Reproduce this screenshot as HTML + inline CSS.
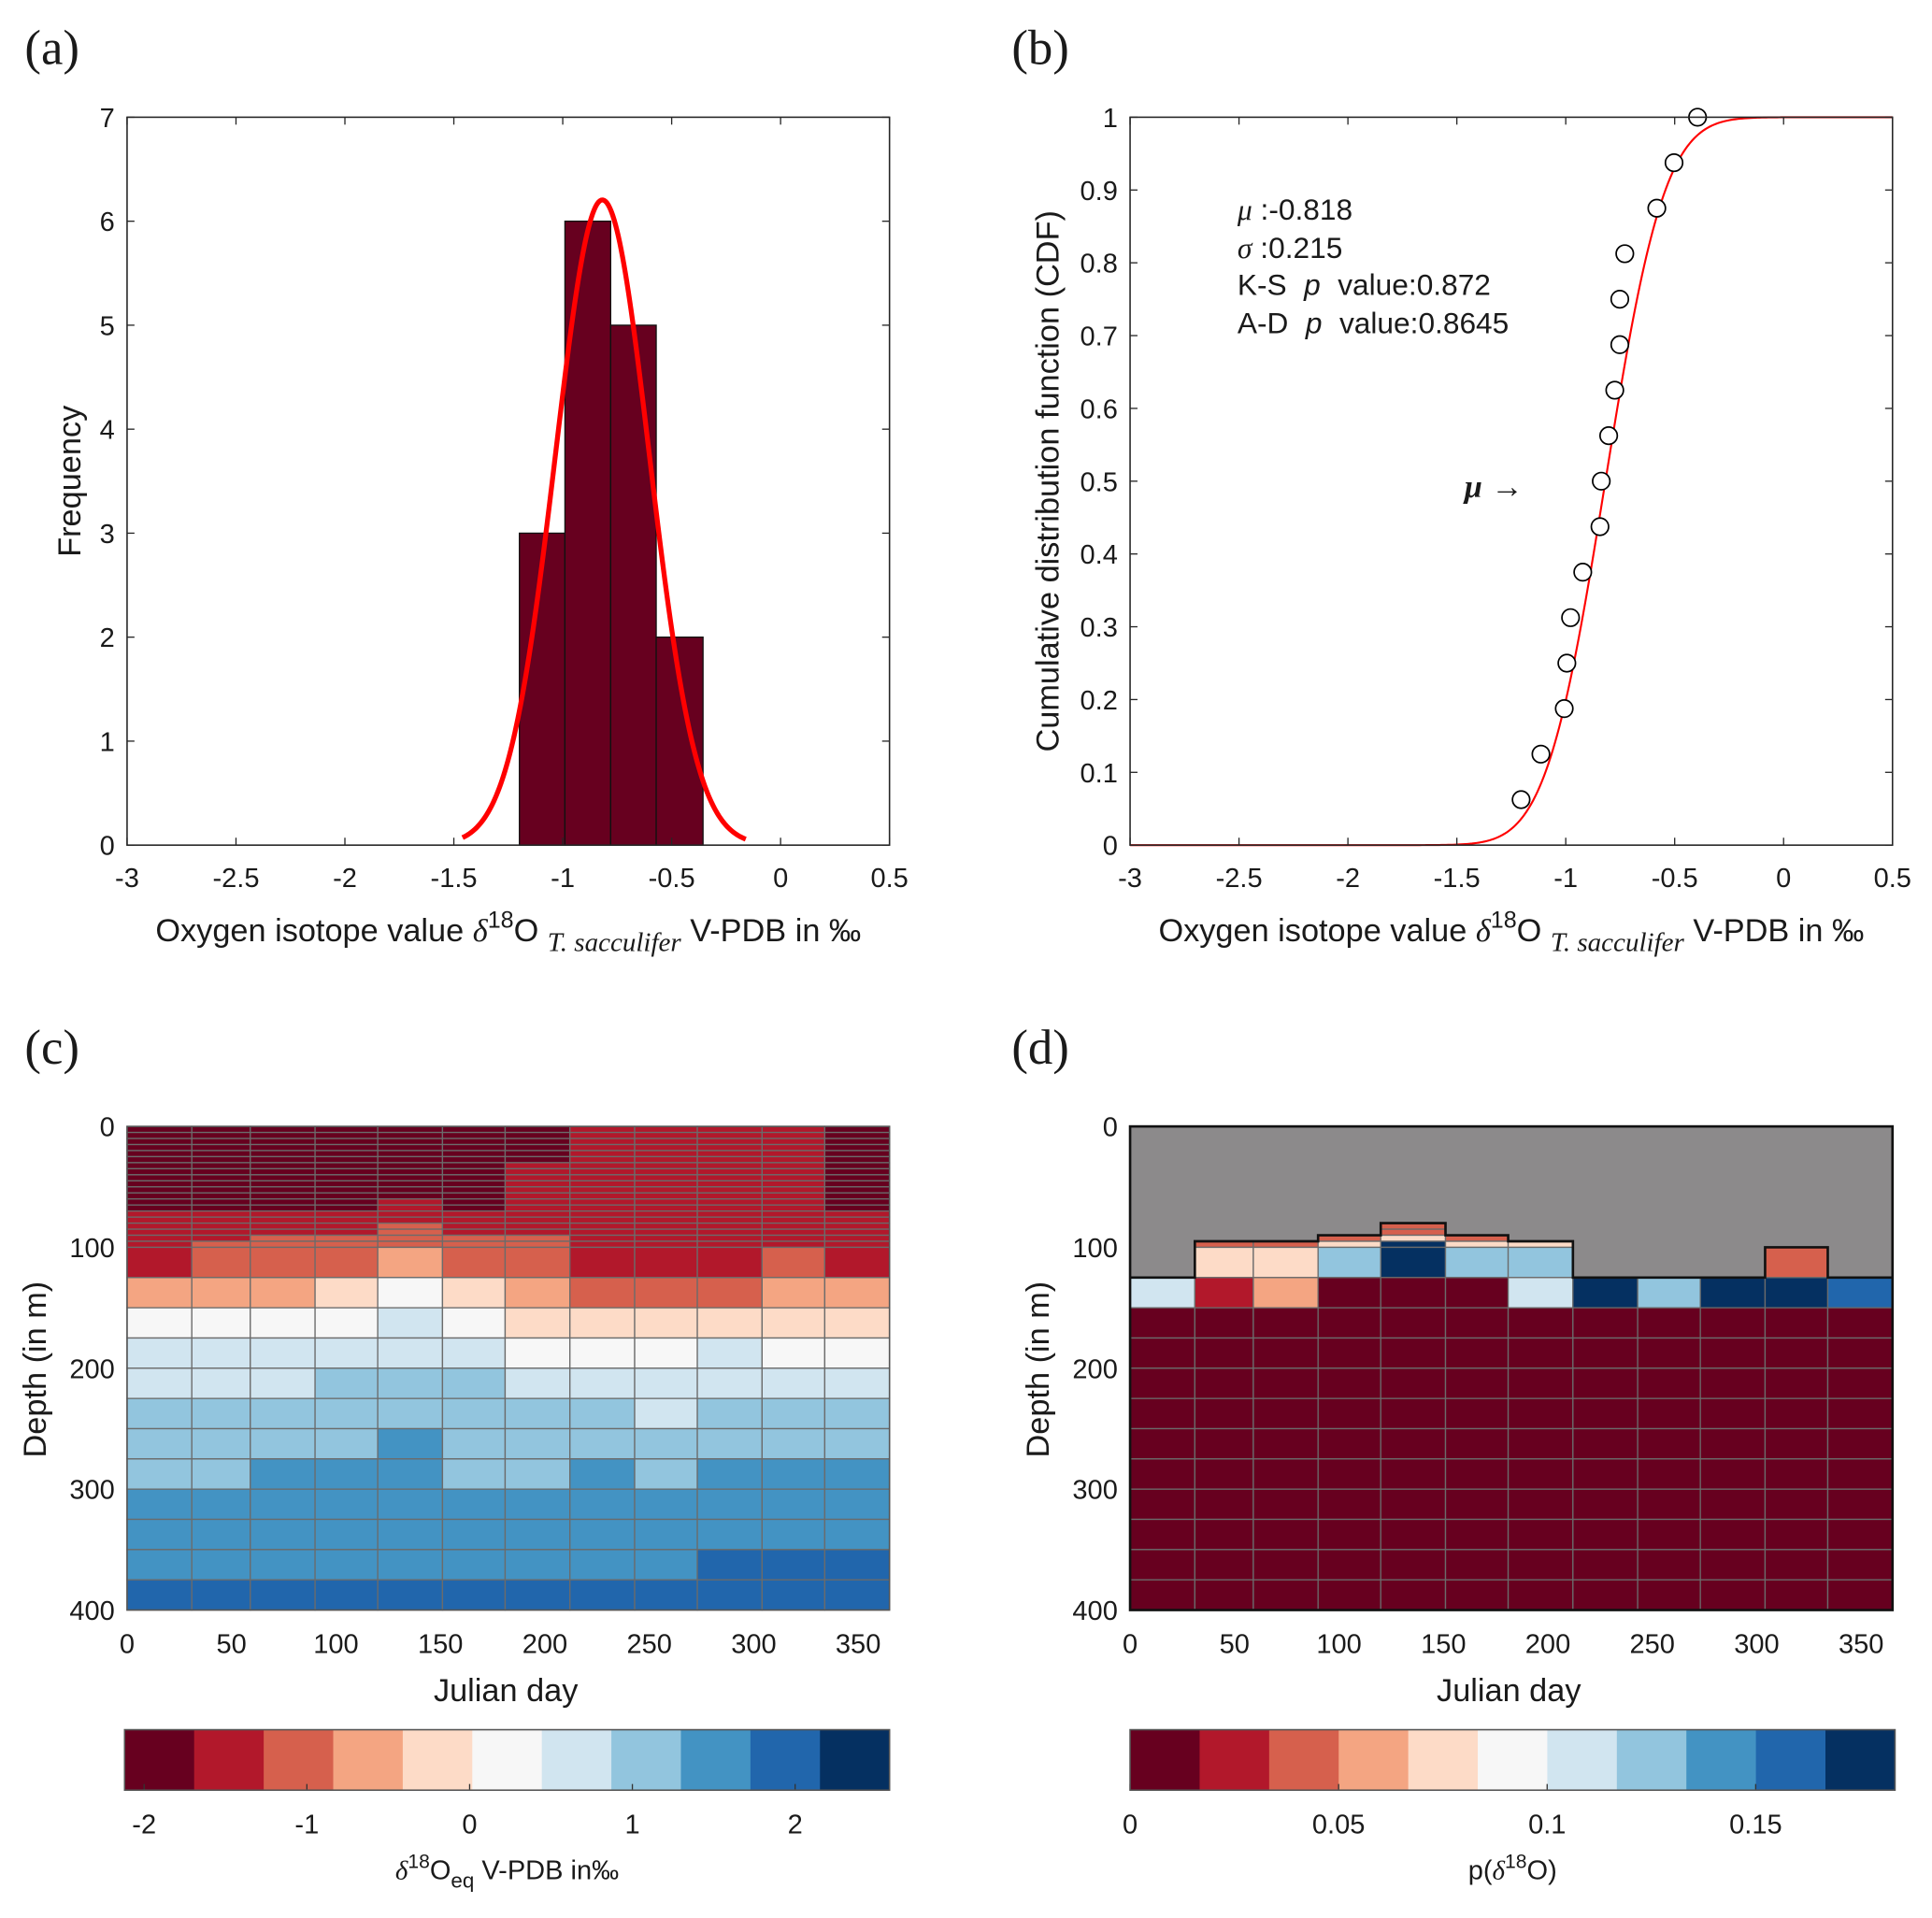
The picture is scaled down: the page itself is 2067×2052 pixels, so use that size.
<!DOCTYPE html>
<html><head><meta charset="utf-8"><style>
html,body{margin:0;padding:0;background:#fff}
svg{display:block}
text{font-family:"Liberation Sans",Arial,sans-serif;fill:#1a1a1a}
.tk{font-size:22px}
.lab{font-size:26px}
.pl{font-family:"Liberation Serif",serif;font-size:40px}
</style></head><body>
<svg id="fig" xmlns="http://www.w3.org/2000/svg" width="2067" height="2052" viewBox="0 0 1566 1554.6">
<rect width="1566" height="1554.6" fill="#fff"/>
<text class="pl" x="20" y="52">(a)</text>
<text class="pl" x="820" y="52">(b)</text>
<text class="pl" x="20" y="862">(c)</text>
<text class="pl" x="820" y="862">(d)</text>
<g id="ga"></g>
<g id="gb"></g>
<g id="gc"></g>
<g id="gd"></g>
</svg>
<script>
// ---- Panel a data
const histEdges = [-1.199, -0.990, -0.780, -0.571, -0.356];
const histCounts = [3, 6, 5, 2];
const fitMu = -0.818;
const fitSigma = 0.215;
const xTicks = [-3, -2.5, -2, -1.5, -1, -0.5, 0, 0.5];
const freqTicks = [0, 1, 2, 3, 4, 5, 6, 7];
// ---- Panel b data
const cdfX = [-1.205, -1.114, -1.007, -0.995, -0.978, -0.922, -0.843, -0.837, -0.803, -0.775, -0.752, -0.752, -0.729, -0.582, -0.503, -0.395];
const cdfY = [0.0625, 0.125, 0.1875, 0.25, 0.3125, 0.375, 0.4375, 0.5, 0.5625, 0.625, 0.6875, 0.75, 0.8125, 0.875, 0.9375, 1.0];
const cdfTicks = [0, 0.1, 0.2, 0.3, 0.4, 0.5, 0.6, 0.7, 0.8, 0.9, 1];
// ---- Heatmap shared
const colEdges = [0, 31, 59, 90, 120, 151, 181, 212, 243, 273, 304, 334, 365];
const dayTicks = [0, 50, 100, 150, 200, 250, 300, 350];
const depthTicks = [0, 100, 200, 300, 400];
const palette = ['#67001f','#b2182b','#d6604d','#f4a582','#fddbc7','#f7f7f7','#d1e5f0','#92c5de','#4393c3','#2166ac','#053061'];
// ---- Panel c data (d18O_eq)
const cDarkTo = [70, 70, 70, 70, 60, 70, 30, 0, 0, 0, 0, 70];
const cOrangeFrom = [100, 95, 90, 90, 80, 90, 90, 100, 100, 100, 100, 100];
const cTopDark = -1.91, cTopRed = -1.48, cTopOrange = -1.05;
const cRowDepths = [100, 125, 150, 175, 200, 225, 250, 275, 300, 325, 350, 375];
const cRows = [
 [-1.48,-1.05,-1.05,-1.05,-0.63,-1.05,-1.05,-1.48,-1.48,-1.48,-1.05,-1.48],
 [-0.63,-0.63,-0.63,-0.2,0.23,-0.2,-0.63,-1.05,-1.05,-1.05,-0.63,-0.63],
 [0.23,0.23,0.23,0.23,0.66,0.23,-0.2,-0.2,-0.2,-0.2,-0.2,-0.2],
 [0.66,0.66,0.66,0.66,0.66,0.66,0.23,0.23,0.23,0.66,0.23,0.23],
 [0.66,0.66,0.66,1.08,1.08,1.08,0.66,0.66,0.66,0.66,0.66,0.66],
 [1.08,1.08,1.08,1.08,1.08,1.08,1.08,1.08,0.66,1.08,1.08,1.08],
 [1.08,1.08,1.08,1.08,1.51,1.08,1.08,1.08,1.08,1.08,1.08,1.08],
 [1.08,1.08,1.51,1.51,1.51,1.08,1.08,1.51,1.08,1.51,1.51,1.51],
 [1.51,1.51,1.51,1.51,1.51,1.51,1.51,1.51,1.51,1.51,1.51,1.51],
 [1.51,1.51,1.51,1.51,1.51,1.51,1.51,1.51,1.51,1.51,1.51,1.51],
 [1.51,1.51,1.51,1.51,1.51,1.51,1.51,1.51,1.51,1.94,1.94,1.94],
 [1.94,1.94,1.94,1.94,1.94,1.94,1.94,1.94,1.94,1.94,1.94,1.94]
];
const cbarCMin = -2.12, cbarCMax = 2.58;
const cbarCTicks = [-2, -1, 0, 1, 2];
// ---- Panel d data (probability)
const dGrayTo = [125, 95, 95, 90, 80, 90, 95, 125, 125, 125, 100, 125];
const dFineDepths = [80, 85, 90, 95];
const dFine = [
 [null,null,null,null,0.042,null,null,null,null,null,null,null],
 [null,null,null,null,0.042,null,null,null,null,null,null,null],
 [null,null,null,0.042,0.075,0.042,null,null,null,null,null,null],
 [null,0.042,0.042,0.075,0.175,0.075,0.075,null,null,null,null,null]
];
const dRowDepths = [100, 125, 150, 175, 200, 225, 250, 275, 300, 325, 350, 375];
const dRows = [
 [null,0.075,0.075,0.125,0.175,0.125,0.125,null,null,null,0.042,null],
 [0.108,0.025,0.058,0.008,0.008,0.008,0.108,0.175,0.125,0.175,0.175,0.158],
 [0.008,0.008,0.008,0.008,0.008,0.008,0.008,0.008,0.008,0.008,0.008,0.008],
 [0.008,0.008,0.008,0.008,0.008,0.008,0.008,0.008,0.008,0.008,0.008,0.008],
 [0.008,0.008,0.008,0.008,0.008,0.008,0.008,0.008,0.008,0.008,0.008,0.008],
 [0.008,0.008,0.008,0.008,0.008,0.008,0.008,0.008,0.008,0.008,0.008,0.008],
 [0.008,0.008,0.008,0.008,0.008,0.008,0.008,0.008,0.008,0.008,0.008,0.008],
 [0.008,0.008,0.008,0.008,0.008,0.008,0.008,0.008,0.008,0.008,0.008,0.008],
 [0.008,0.008,0.008,0.008,0.008,0.008,0.008,0.008,0.008,0.008,0.008,0.008],
 [0.008,0.008,0.008,0.008,0.008,0.008,0.008,0.008,0.008,0.008,0.008,0.008],
 [0.008,0.008,0.008,0.008,0.008,0.008,0.008,0.008,0.008,0.008,0.008,0.008],
 [0.008,0.008,0.008,0.008,0.008,0.008,0.008,0.008,0.008,0.008,0.008,0.008]
];
const cbarDMin = 0, cbarDMax = 0.1834;
const cbarDTicks = [0, 0.05, 0.1, 0.15];
const cbarDLabels = ['0', '0.05', '0.1', '0.15'];

const NS = 'http://www.w3.org/2000/svg';
function mk(parent, tag, attrs, txt) {
  const e = document.createElementNS(NS, tag);
  for (const k in attrs) e.setAttribute(k, attrs[k]);
  if (txt !== undefined) e.textContent = txt;
  parent.appendChild(e);
  return e;
}
function lin(d0, d1, r0, r1) { return v => r0 + (v - d0) * (r1 - r0) / (d1 - d0); }
function colorFor(v, mn, mx) {
  let i = Math.floor((v - mn) / (mx - mn) * 11);
  i = Math.max(0, Math.min(10, i));
  return palette[i];
}
function axesBox(g, L, T, R, B, xs, ys, xt, yt, xlab, ylab, tickCol) {
  for (const t of xt) {
    const x = xs(t);
    let l = mk(g, 'line', {x1:x, x2:x, y1:B, y2:B-6, stroke:tickCol||'#262626', 'stroke-width':1});
     
    l = mk(g, 'line', {x1:x, x2:x, y1:T, y2:T+6, stroke:tickCol||'#262626', 'stroke-width':1});
     
    const tx = mk(g, 'text', {x:x, y:B+34, 'text-anchor':'middle', class:'tk'}, xlab(t));
     
  }
  for (const t of yt) {
    const y = ys(t);
    let l = mk(g, 'line', {x1:L, x2:L+6, y1:y, y2:y, stroke:tickCol||'#262626', 'stroke-width':1});
     
    l = mk(g, 'line', {x1:R, x2:R-6, y1:y, y2:y, stroke:tickCol||'#262626', 'stroke-width':1});
     
    const tx = mk(g, 'text', {x:L-10, y:y+8, 'text-anchor':'end', class:'tk'}, ylab(t));
     
  }
  const r = mk(g, 'rect', {x:L, y:T, width:R-L, height:B-T, fill:'none', stroke:'#262626', 'stroke-width':1.2});
   
}
function fmt(t) { return String(t); }
function xTitle(g, cx, y) {
  const t = mk(g, 'text', {x:cx, y:y, 'text-anchor':'middle', class:'lab'});
   
  mk(t, 'tspan', {}, 'Oxygen isotope value ');
  mk(t, 'tspan', {'font-family':'Liberation Serif, serif', 'font-style':'italic'}, 'δ');
  mk(t, 'tspan', {'font-size':'19', dy:'-11'}, '18');
  mk(t, 'tspan', {dy:'11'}, 'O ');
  mk(t, 'tspan', {'font-family':'Liberation Serif, serif', 'font-style':'italic', 'font-size':'22', dy:'8'}, 'T. sacculifer');
  mk(t, 'tspan', {dy:'-8'}, ' V-PDB in ‰');
}
function yTitle(g, x, cy, txt) {
  const t = mk(g, 'text', {x:0, y:0, 'text-anchor':'middle', class:'lab', transform:`translate(${x},${cy}) rotate(-90)`}, txt);
   
}

// ---------- Panel a
(function(){
  const g = document.getElementById('ga');
  const L=103,R=721,T=95,B=685;
  const xs = lin(-3, 0.5, L, R), ys = lin(0, 7, B, T);
  for (let i = 0; i < histCounts.length; i++) {
    const r = mk(g, 'rect', {x:xs(histEdges[i]), y:ys(histCounts[i]), width:xs(histEdges[i+1])-xs(histEdges[i]), height:ys(0)-ys(histCounts[i]), fill:'#67001f', stroke:'#111', 'stroke-width':1});
     
  }
  const n = histCounts.reduce((a,b)=>a+b,0), bw = histEdges[1]-histEdges[0];
  let d = '';
  for (let k = 0; k <= 200; k++) {
    const x = -1.46 + k*(1.30/200);
    const y = n*bw/(fitSigma*Math.sqrt(2*Math.PI))*Math.exp(-0.5*((x-fitMu)/fitSigma)**2);
    d += (k?'L':'M') + xs(x).toFixed(2) + ',' + ys(y).toFixed(2);
  }
  const p = mk(g, 'path', {d:d, fill:'none', stroke:'#ff0000', 'stroke-width':4});
   
  axesBox(g, L, T, R, B, xs, ys, xTicks, freqTicks, fmt, fmt);
  xTitle(g, 412, 763);
  yTitle(g, 65, 390, 'Frequency');
})();

// ---------- Panel b
function erf(x){const s=Math.sign(x);x=Math.abs(x);const t=1/(1+0.3275911*x);const y=1-(((((1.061405429*t-1.453152027)*t)+1.421413741)*t-0.284496736)*t+0.254829592)*t*Math.exp(-x*x);return s*y;}
(function(){
  const g = document.getElementById('gb');
  const L=916,R=1534,T=95,B=685;
  const xs = lin(-3, 0.5, L, R), ys = lin(0, 1, B, T);
  let d = '';
  for (let k = 0; k <= 350; k++) {
    const x = -3 + k*0.01;
    const y = 0.5*(1+erf((x-fitMu)/(fitSigma*Math.SQRT2)));
    d += (k?'L':'M') + xs(x).toFixed(2) + ',' + ys(y).toFixed(2);
  }
  const p = mk(g, 'path', {d:d, fill:'none', stroke:'#ff0000', 'stroke-width':1.6});
   
  for (let i = 0; i < cdfX.length; i++) {
    const c = mk(g, 'circle', {cx:xs(cdfX[i]), cy:ys(cdfY[i]), r:7, fill:'#fff', stroke:'#000', 'stroke-width':1.3});
     
  }
  axesBox(g, L, T, R, B, xs, ys, xTicks, cdfTicks, fmt, fmt);
  xTitle(g, 1225, 763);
  yTitle(g, 858, 390, 'Cumulative distribution function (CDF)');
  const lines = [['μ',' :-0.818',178],['σ',' :0.215',209]];
  for (const l of lines) {
    const t = mk(g, 'text', {x:1003, y:l[2], style:'font-size:24px'});
     
    mk(t, 'tspan', {'font-family':'Liberation Serif, serif', 'font-style':'italic'}, l[0]);
    mk(t, 'tspan', {}, l[1]);
  }
  const pl = [['K-S','value:0.872',239],['A-D','value:0.8645',270]];
  for (const l of pl) {
    const t = mk(g, 'text', {x:1003, y:l[2], style:'font-size:24px'});
     
    mk(t, 'tspan', {}, l[0]);
    mk(t, 'tspan', {'font-style':'italic', dx:'14'}, 'p');
    mk(t, 'tspan', {dx:'14'}, l[1]);
  }
  const m = mk(g, 'text', {x:1187, y:403, style:'font-size:26px;font-weight:bold'});
   
  mk(m, 'tspan', {'font-family':'Liberation Serif, serif', 'font-style':'italic'}, 'μ');
  mk(m, 'tspan', {}, ' →');
})();

// ---------- Heatmap helpers
function heatAxes(g, L, R, T, B) {
  const xs = lin(0, 365, L, R), ys = lin(0, 400, T, B);
  return {xs, ys};
}
function cell(g, xs, ys, c0, c1, d0, d1, fill, name) {
  const r = mk(g, 'rect', {x:xs(c0), y:ys(d0), width:xs(c1)-xs(c0), height:ys(d1)-ys(d0), fill:fill, stroke:'#6b6b6b', 'stroke-width':1});
   
}
function heatFrame(g, L, R, T, B, xs, ys) {
  for (const t of dayTicks) {
    const tx = mk(g, 'text', {x:xs(t), y:B+35, 'text-anchor':'middle', class:'tk'}, String(t));
     
  }
  for (const t of depthTicks) {
    const tx = mk(g, 'text', {x:L-10, y:ys(t)+8, 'text-anchor':'end', class:'tk'}, String(t));
     
  }
  const r = mk(g, 'rect', {x:L, y:T, width:R-L, height:B-T, fill:'none', stroke:'#555', 'stroke-width':1.2});
   
  const t = mk(g, 'text', {x:(L+R)/2-2, y:B+74, 'text-anchor':'middle', class:'lab'}, 'Julian day');
   
  yTitle(g, L-66, 1110, 'Depth (in m)');
}
function colorbar(g, L, R, T, B, mn, mx, ticks, labels) {
  const w = (R-L)/11;
  for (let i = 0; i < 11; i++) {
    const r = mk(g, 'rect', {x:L+i*w, y:T, width:w+0.5, height:B-T, fill:palette[i]});
     
  }
  const xs = lin(mn, mx, L, R);
  ticks.forEach((t, i) => {
    const x = xs(t);
    let l = mk(g, 'line', {x1:x, x2:x, y1:B, y2:B-5, stroke:'#333', 'stroke-width':1});
     
    const tx = mk(g, 'text', {x:x, y:B+35, 'text-anchor':'middle', class:'tk'}, labels[i]);
     
  });
  const r = mk(g, 'rect', {x:L, y:T, width:R-L, height:B-T, fill:'none', stroke:'#555', 'stroke-width':1.2});
   
}

// ---------- Panel c
(function(){
  const g = document.getElementById('gc');
  const L=103,R=721,T=913,B=1305;
  const {xs, ys} = heatAxes(g, L, R, T, B);
  for (let c = 0; c < 12; c++) {
    for (let d = 0; d < 100; d += 5) {
      const v = d < cDarkTo[c] ? cTopDark : (d >= cOrangeFrom[c] ? cTopOrange : cTopRed);
      cell(g, xs, ys, colEdges[c], colEdges[c+1], d, d+5, colorFor(v, cbarCMin, cbarCMax), 'heatmap-cell');
    }
    for (let r = 0; r < cRowDepths.length; r++) {
      cell(g, xs, ys, colEdges[c], colEdges[c+1], cRowDepths[r], cRowDepths[r]+25, colorFor(cRows[r][c], cbarCMin, cbarCMax), 'heatmap-cell');
    }
  }
  heatFrame(g, L, R, T, B, xs, ys);
  colorbar(g, 101, 721, 1402, 1451, cbarCMin, cbarCMax, cbarCTicks, cbarCTicks.map(String));
  const t = mk(g, 'text', {x:411, y:1523, 'text-anchor':'middle', style:'font-size:22px'});
   
  mk(t, 'tspan', {'font-family':'Liberation Serif, serif', 'font-style':'italic'}, 'δ');
  mk(t, 'tspan', {'font-size':'16', dy:'-9'}, '18');
  mk(t, 'tspan', {dy:'9'}, 'O');
  mk(t, 'tspan', {'font-size':'17', dy:'7'}, 'eq');
  mk(t, 'tspan', {dy:'-7'}, ' V-PDB in‰');
})();

// ---------- Panel d
(function(){
  const g = document.getElementById('gd');
  const L=916,R=1534,T=913,B=1305;
  const {xs, ys} = heatAxes(g, L, R, T, B);
  const bg = mk(g, 'rect', {x:L, y:T, width:R-L, height:B-T, fill:'#8c8a8b'});
   
  for (let c = 0; c < 12; c++) {
    for (let r = 0; r < dFineDepths.length; r++) {
      const v = dFine[r][c];
      if (v !== null) cell(g, xs, ys, colEdges[c], colEdges[c+1], dFineDepths[r], dFineDepths[r]+5, colorFor(v, cbarDMin, cbarDMax), 'heatmap-cell');
    }
    for (let r = 0; r < dRowDepths.length; r++) {
      const v = dRows[r][c];
      if (v !== null) cell(g, xs, ys, colEdges[c], colEdges[c+1], dRowDepths[r], dRowDepths[r]+25, colorFor(v, cbarDMin, cbarDMax), 'heatmap-cell');
    }
  }
  let d = '';
  for (let c = 0; c < 12; c++) {
    d += (c ? 'L' : 'M') + xs(colEdges[c]) + ',' + ys(dGrayTo[c]) + 'L' + xs(colEdges[c+1]) + ',' + ys(dGrayTo[c]);
  }
  const p = mk(g, 'path', {d:d, fill:'none', stroke:'#111', 'stroke-width':2});
   
  heatFrame(g, L, R, T, B, xs, ys);
  const fr = mk(g, 'rect', {x:L, y:T, width:R-L, height:B-T, fill:'none', stroke:'#111', 'stroke-width':2});
   
  colorbar(g, 916, 1536, 1402, 1451, cbarDMin, cbarDMax, cbarDTicks, cbarDLabels);
  const t = mk(g, 'text', {x:1226, y:1523, 'text-anchor':'middle', style:'font-size:22px'});
   
  mk(t, 'tspan', {}, 'p(');
  mk(t, 'tspan', {'font-family':'Liberation Serif, serif', 'font-style':'italic'}, 'δ');
  mk(t, 'tspan', {'font-size':'16', dy:'-9'}, '18');
  mk(t, 'tspan', {dy:'9'}, 'O)');
})();
</script>
</body></html>
